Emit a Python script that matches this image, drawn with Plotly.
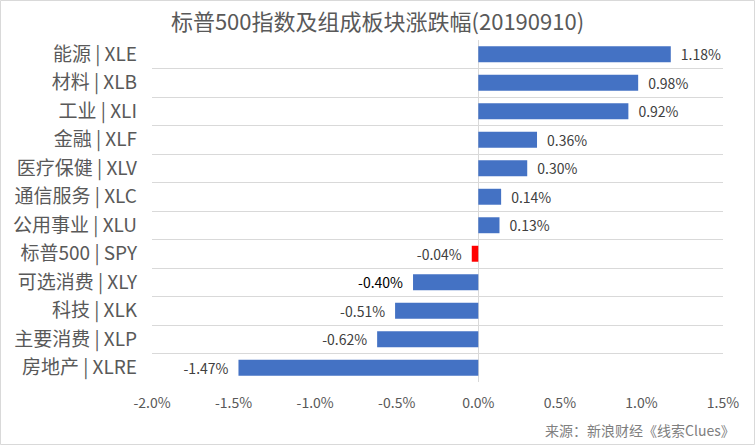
import plotly.graph_objects as go

categories = ["能源 | XLE", "材料 | XLB", "工业 | XLI", "金融 | XLF", "医疗保健 | XLV",
              "通信服务 | XLC", "公用事业 | XLU", "标普500 | SPY", "可选消费 | XLY",
              "科技 | XLK", "主要消费 | XLP", "房地产 | XLRE"]
values = [1.18, 0.98, 0.92, 0.36, 0.30, 0.14, 0.13, -0.04, -0.40, -0.51, -0.62, -1.47]
labels = ["1.18%", "0.98%", "0.92%", "0.36%", "0.30%", "0.14%", "0.13%", "-0.04%",
          "-0.40%", "-0.51%", "-0.62%", "-1.47%"]
x_ticks = [-2.0, -1.5, -1.0, -0.5, 0.0, 0.5, 1.0, 1.5]
x_tick_text = ["-2.0%", "-1.5%", "-1.0%", "-0.5%", "0.0%", "0.5%", "1.0%", "1.5%"]

colors = ["#FF0000" if c.endswith("SPY") else "#4472C4" for c in categories]
text_colors = ["#000000" if c.endswith("XLY") else "#404040" for c in categories]
shown = [("\u2002" + t) if v >= 0 else (t + "\u2002") for t, v in zip(labels, values)]

FONT = "Noto Sans CJK SC"

fig = go.Figure(go.Bar(
    y=categories, x=values, orientation="h",
    marker=dict(color=colors, line=dict(width=0)),
    text=shown, textposition="outside", constraintext="none",
    textfont=dict(family=FONT, size=14, color=text_colors),
    cliponaxis=False, width=0.56,
))

W, H = 755, 445
L, R, T, B = 152, 32, 40, 63
pw, ph = W - L - R, H - T - B

fig.update_layout(
    width=W, height=H,
    margin=dict(l=L, r=R, t=T, b=B),
    paper_bgcolor="white", plot_bgcolor="white",
    showlegend=False,
    font=dict(family=FONT, color="#595959"),
    title=dict(text="标普500指数及组成板块涨跌幅(20190910)", x=0.5, xanchor="center",
               y=1 - 22 / H, yanchor="middle",
               font=dict(family=FONT, size=22, color="#595959")),
    xaxis=dict(range=[-2.0, 1.5], tickvals=x_ticks, ticktext=x_tick_text,
               showgrid=False, zeroline=True, zerolinecolor="#D9D9D9", zerolinewidth=1,
               showline=False, ticks="", ticklabelstandoff=11,
               tickfont=dict(family=FONT, size=14, color="#595959")),
    yaxis=dict(categoryorder="array", categoryarray=categories[::-1],
               tickson="boundaries", showgrid=True, gridcolor="#D9D9D9", gridwidth=1,
               showline=False, ticks="", ticklabelstandoff=14,
               tickfont=dict(family=FONT, size=19, color="#595959")),
    annotations=[dict(text="来源：新浪财经《线索Clues》", xref="paper", yref="paper",
                      x=(737 - L) / pw, y=-(430 - (H - B)) / ph, xanchor="right", yanchor="middle",
                      showarrow=False, font=dict(family=FONT, size=14, color="#808080"))],
    shapes=[dict(type="rect", xref="paper", yref="paper",
                 x0=(0.5 - L) / pw, x1=(W - 0.5 - L) / pw,
                 y0=-(B - 0.5) / ph, y1=(H - B - 0.5) / ph,
                 line=dict(color="#D9D9D9", width=1), fillcolor="rgba(0,0,0,0)", layer="below")],
)

fig.write_html("out.html", config={"displayModeBar": False},
               post_script="document.body.style.margin='0';")
